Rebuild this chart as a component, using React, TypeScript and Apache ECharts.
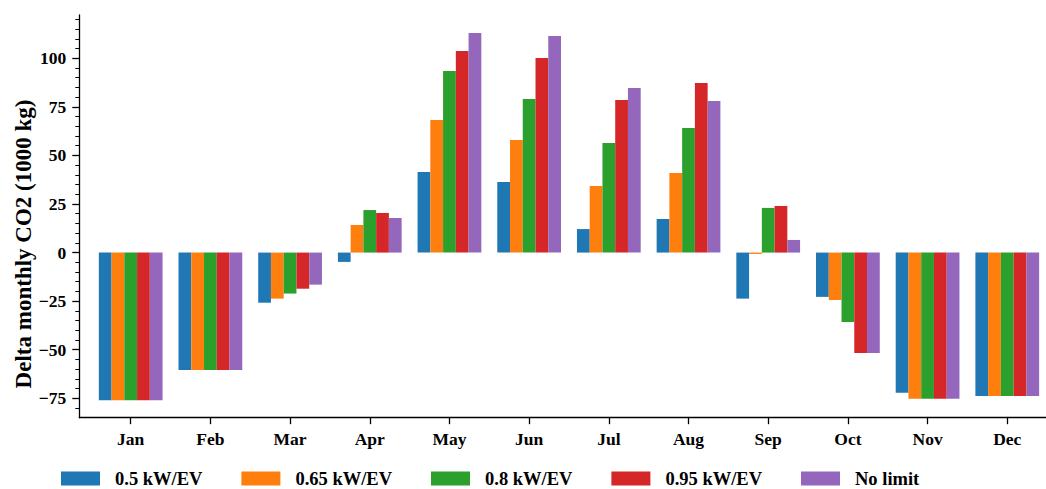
import React, { useEffect, useRef } from "react";
import * as echarts from "echarts";

const months = ["Jan", "Feb", "Mar", "Apr", "May", "Jun", "Jul", "Aug", "Sep", "Oct", "Nov", "Dec"];
const seriesNames = ["0.5 kW/EV", "0.65 kW/EV", "0.8 kW/EV", "0.95 kW/EV", "No limit"];
const colors = ["#1f77b4", "#ff7f0e", "#2ca02c", "#d62728", "#9467bd"];

const kw050 = [-76, -60.4, -25.8, -4.8, 41.5, 36.3, 12.1, 17.3, -23.7, -22.8, -72.1, -73.8];
const kw065 = [-76, -60.4, -23.7, 14.2, 68.2, 58.0, 34.3, 41.0, -0.7, -24.4, -75.3, -73.8];
const kw080 = [-76, -60.4, -21.1, 21.9, 93.5, 79.1, 56.4, 64.1, 23.0, -35.7, -75.3, -73.8];
const kw095 = [-76, -60.4, -18.6, 20.4, 103.8, 100.2, 78.5, 87.3, 24.0, -51.7, -75.3, -73.8];
const noLimit = [-76, -60.4, -16.5, 17.8, 113.0, 111.5, 84.7, 78.0, 6.5, -51.7, -75.3, -73.8];

const majorTicks = [-75, -50, -25, 0, 25, 50, 75, 100];
const minorTicks = [-80, -70, -65, -60, -55, -45, -40, -35, -30, -20, -15, -10, -5, 5, 10, 15, 20, 30, 35, 40, 45, 55, 60, 65, 70, 80, 85, 90, 95, 105, 110, 115, 120];
const monthPositions = [0, 1, 2, 3, 4, 5, 6, 7, 8, 9, 10, 11];

const yLabel = "Delta monthly CO2 (1000 kg)";
const FONT = "Liberation Serif";

export default function App() {
  const ref = useRef<HTMLDivElement>(null);

  useEffect(() => {
    if (!ref.current) return;
    const chart = echarts.init(ref.current, undefined, { renderer: "svg" });
    const all = [kw050, kw065, kw080, kw095, noLimit];
    const fmt = (v: number) => (v < 0 ? "\u2212" + Math.abs(v) : String(v));
    chart.setOption({
      animation: false,
      grid: { left: 79.3, right: 0, top: 15, bottom: 71.3, containLabel: false },
      legend: {
        data: seriesNames,
        icon: "rect",
        itemWidth: 39,
        itemHeight: 14,
        itemGap: 39,
        left: 61,
        top: 469,
        padding: 0,
        textStyle: {
          fontFamily: FONT,
          fontWeight: "bold",
          fontSize: 18.5,
          color: "#000",
          padding: [0, 0, 0, 10],
        },
      },
      xAxis: {
        type: "value",
        min: -0.645,
        max: 11.486,
        splitLine: { show: false },
        axisLine: { show: true, onZero: false, lineStyle: { color: "#000", width: 1.3 } },
        axisTick: { show: true, customValues: monthPositions, length: 6.5, lineStyle: { color: "#000", width: 1.3 } },
        axisLabel: {
          customValues: monthPositions,
          formatter: (v: number) => months[Math.round(v)] ?? "",
          fontFamily: FONT,
          fontWeight: "bold",
          fontSize: 17.5,
          color: "#000",
          margin: 12,
        },
      },
      yAxis: [
        {
          type: "value",
          position: "left",
          min: -85.0,
          max: 122.3,
          splitLine: { show: false },
          axisLine: { show: true, onZero: false, lineStyle: { color: "#000", width: 1.3 } },
          axisTick: { show: true, customValues: majorTicks, length: 7, lineStyle: { color: "#000", width: 1.3 } },
          axisLabel: {
            customValues: majorTicks,
            formatter: fmt,
            fontFamily: FONT,
            fontWeight: "bold",
            fontSize: 17.5,
            color: "#000",
            margin: 13,
          },
        },
        {
          type: "value",
          position: "left",
          offset: 0,
          min: -85.0,
          max: 122.3,
          splitLine: { show: false },
          axisLine: { show: false, onZero: false },
          axisLabel: { show: false },
          axisTick: { show: true, customValues: minorTicks, length: 4, lineStyle: { color: "#000", width: 1 } },
        },
      ],
      graphic: [
        {
          type: "text",
          x: 23,
          y: 244,
          rotation: Math.PI / 2,
          style: {
            text: yLabel,
            fontFamily: FONT,
            fontWeight: "bold",
            fontSize: 23,
            fill: "#000",
            textAlign: "center",
            textVerticalAlign: "middle",
          },
        },
      ],
      series: all.map((vals, s) => ({
        name: seriesNames[s],
        type: "bar",
        xAxisIndex: 0,
        yAxisIndex: 0,
        barWidth: 12.75,
        barGap: "0%",
        itemStyle: { color: colors[s] },
        data: vals.map((v, i) => [monthPositions[i], v]),
      })),
    });
    return () => chart.dispose();
  }, []);

  return (
    <div
      ref={ref}
      style={{ position: "fixed", left: 0, top: 0, width: 1046, height: 489, background: "#fff" }}
    />
  );
}
